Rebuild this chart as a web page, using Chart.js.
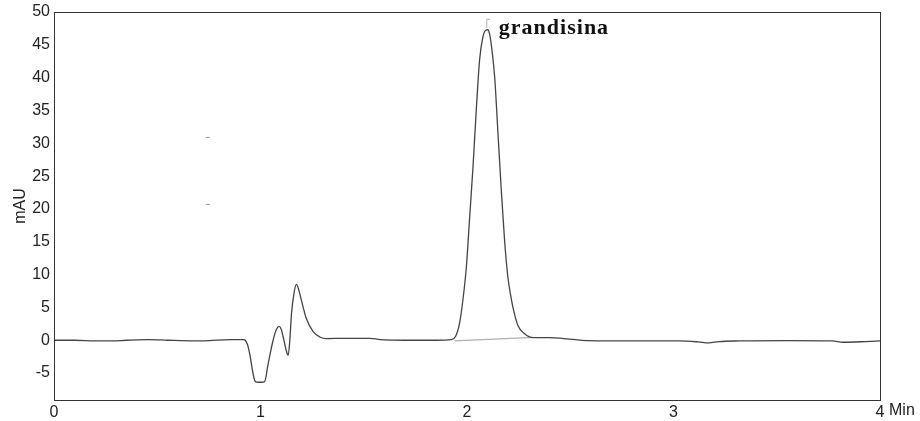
<!DOCTYPE html>
<html>
<head>
<meta charset="utf-8">
<script src="https://cdn.jsdelivr.net/npm/chart.js@4/dist/chart.umd.min.js"></script>
<style>
  html, body { margin: 0; padding: 0; background: #fff; }
  #wrap { width: 920px; height: 421px; }
</style>
</head>
<body>
<div id="wrap"><canvas id="c" width="920" height="421"></canvas></div>
<script>
// ---- data ----
const times = [0.00, 0.10, 0.20, 0.28, 0.35, 0.46, 0.55, 0.68, 0.75, 0.85, 0.92,
  0.935, 0.948, 0.964, 0.975, 0.99, 1.005, 1.02, 1.037, 1.061, 1.078, 1.09, 1.10, 1.11,
  1.125, 1.134, 1.142, 1.15, 1.163, 1.174, 1.186, 1.198, 1.222, 1.255, 1.287, 1.32,
  1.40, 1.53, 1.58, 1.70, 1.85, 1.925, 1.945, 1.964, 1.98, 1.997, 2.013, 2.029, 2.045,
  2.061, 2.077, 2.090, 2.101, 2.109, 2.117, 2.134, 2.15, 2.166, 2.182, 2.198, 2.210, 2.222,
  2.246, 2.279, 2.319, 2.40, 2.46, 2.59, 2.80, 3.03, 3.12, 3.17, 3.22, 3.32, 3.55,
  3.77, 3.82, 3.93, 4.00];
const signal = [0.0, 0.0, -0.1, -0.1, 0.0, 0.1, 0.0, -0.1, -0.05, 0.1, 0.1,
  -0.5, -2.1, -5.1, -6.3, -6.4, -6.4, -6.3, -3.6, 0.0, 1.7, 2.1, 1.7, 0.5,
  -1.6, -2.3, 0.0, 4.0, 7.3, 8.5, 7.6, 6.1, 3.3, 1.3, 0.5, 0.25,
  0.3, 0.3, 0.1, 0.0, 0.0, 0.1, 0.6, 2.6, 6.1, 11.2, 18.8, 26.4, 35.1,
  42.7, 46.2, 47.2, 47.3, 46.7, 45.2, 40.1, 31.5, 22.9, 15.2, 9.6, 7.1, 5.1,
  2.3, 1.0, 0.4, 0.4, 0.3, -0.05, -0.1, -0.1, -0.25, -0.4, -0.2, -0.1, -0.05,
  -0.1, -0.3, -0.2, -0.1];
const baselineTimes = [1.94, 2.32];
const baselineValues = [-0.1, 0.45];
const markerTimes = [2.096, 2.096, 2.112];
const markerValues = [47.6, 48.9, 48.9];
const dotTimes = [0.745, 0.745];
const dotValues = [30.9, 20.7];
const peakNames = ['grandisina'];
const peakTimes = [2.101];
const peakHeights = [47.3];
const xTicks = [0, 1, 2, 3, 4];
const yTicks = [-5, 0, 5, 10, 15, 20, 25, 30, 35, 40, 45, 50];
const xUnit = 'Min';
const yTitle = 'mAU';

const pts = (xs, ys) => xs.map((x, i) => ({ x: x, y: ys[i] }));

const frame = {
  id: 'frame',
  afterDatasetsDraw(chart) {
    const { ctx, chartArea: a, scales } = chart;
    ctx.save();
    ctx.strokeStyle = '#333';
    ctx.lineWidth = 1;
    ctx.strokeRect(Math.round(a.left) + 0.5, Math.round(a.top) + 0.5,
      Math.round(a.right - a.left), Math.round(a.bottom - a.top));
    // peak labels
    ctx.fillStyle = '#111';
    ctx.font = 'bold 22px "Liberation Serif", "Times New Roman", serif';
    ctx.textAlign = 'left';
    ctx.textBaseline = 'alphabetic';
    try { ctx.letterSpacing = '1px'; } catch (e) {}
    peakNames.forEach((n, i) => {
      const px = scales.x.getPixelForValue(peakTimes[i]) + 11;
      const py = scales.y.getPixelForValue(peakHeights[i]) + 4;
      ctx.fillText(n, px, py);
    });
    try { ctx.letterSpacing = '0px'; } catch (e) {}
    // unit after last x tick
    ctx.fillStyle = '#222';
    ctx.font = '16px "Liberation Sans", Arial, sans-serif';
    ctx.textBaseline = 'top';
    const lx = scales.x.getPixelForValue(xTicks[xTicks.length - 1]);
    ctx.fillText(xUnit, lx + 9, a.bottom + 3);
    ctx.restore();
  }
};

const tickFont = { family: '"Liberation Sans", Arial, sans-serif', size: 16 };

new Chart(document.getElementById('c'), {
  type: 'scatter',
  data: {
    datasets: [
      { data: pts(baselineTimes, baselineValues), showLine: true, borderColor: '#b0b0b0',
        borderWidth: 1.2, pointRadius: 0, order: 2 },
      { data: pts(markerTimes, markerValues), showLine: true, borderColor: '#b0b0b0',
        borderWidth: 1, pointRadius: 0, order: 2 },
      { data: pts(dotTimes, dotValues), showLine: false, pointStyle: 'line', pointRadius: 2,
        borderColor: '#999', borderWidth: 1, order: 2 },
      { data: pts(times, signal), showLine: true, borderColor: '#444', borderWidth: 1.3,
        pointRadius: 0, cubicInterpolationMode: 'monotone', order: 1 }
    ]
  },
  options: {
    responsive: false,
    animation: false,
    events: [],
    layout: { padding: { left: 0, right: 40, top: 12, bottom: 0 } },
    plugins: { legend: { display: false }, tooltip: { enabled: false } },
    scales: {
      x: {
        type: 'linear', min: 0, max: 4,
        grid: { display: false, drawTicks: true, tickLength: 3, color: '#333' },
        border: { display: true, color: '#333' },
        afterBuildTicks: (s) => { s.ticks = xTicks.map(v => ({ value: v })); },
        afterFit: (s) => { s.height = 21; },
        ticks: { color: '#222', font: tickFont, padding: 0, maxRotation: 0, autoSkip: false }
      },
      y: {
        type: 'linear', min: -9.1, max: 50,
        grid: { display: false, tickLength: 3 },
        border: { display: true, color: '#333' },
        afterBuildTicks: (s) => { s.ticks = yTicks.map(v => ({ value: v })); },
        afterFit: (s) => { s.width = 54; },
        title: { display: true, text: yTitle, color: '#222', font: tickFont, padding: { top: 11, bottom: 0 } },
        ticks: { color: '#222', font: tickFont, padding: 1, autoSkip: false }
      }
    }
  },
  plugins: [frame]
});
</script>
</body>
</html>
